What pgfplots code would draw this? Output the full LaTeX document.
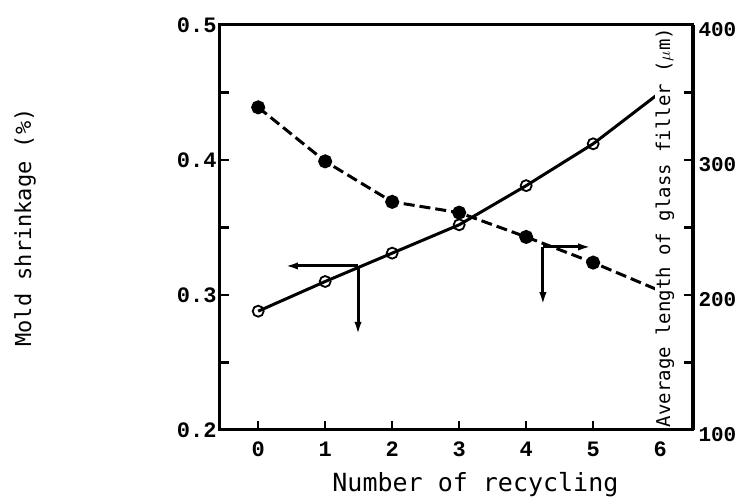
\documentclass[border=0pt]{standalone}
\usepackage{pgfplots}
\pgfplotsset{compat=1.18}
\usetikzlibrary{arrows.meta}
\usepackage{fontspec}
\setmainfont{Liberation Mono}
\newfontfamily\labfont{DejaVu Sans Mono}
\begin{document}
\begin{tikzpicture}
\begin{axis}[
  scale only axis, width=473pt, height=405pt,
  xmin=-0.57, xmax=6.49, ymin=0.2, ymax=0.5,
  axis line style={line width=3pt},
  xtick={0,1,2,3,4,5,6}, xtick pos=bottom,
  ytick={0.2,0.3,0.4,0.5}, minor ytick={0.25,0.35,0.45}, ytick pos=left,
  tick align=inside, major tick length=9pt, minor tick length=9pt,
  tick style={line width=2.2pt, black},
  /pgf/number format/assume math mode=true,
  yticklabel style={/pgf/number format/fixed, /pgf/number format/fixed zerofill, /pgf/number format/precision=1},
  ticklabel style={font=\fontsize{22}{22}\selectfont\bfseries},
  xticklabel style={yshift=-8pt},
  clip=false,
]
\addplot[black, line width=3pt, mark=o, mark size=5.5pt, mark options={line width=1.8pt, fill=white}, mark indices={1,2,3,4,5,6}] coordinates {
(0,0.288) (1,0.310) (2,0.331) (3,0.352) (4,0.381) (5,0.412) (6,0.450)};
\draw[line width=3pt,-{Latex[length=15pt,width=7pt]}] (axis cs:1.49,0.3215) -- (axis cs:0.37,0.3215);
\draw[line width=3pt,-{Latex[length=15pt,width=7pt]}] (axis cs:1.49,0.3215) -- (axis cs:1.49,0.269);
\draw[line width=3pt,-{Latex[length=15pt,width=7pt]}] (axis cs:4.25,0.3356) -- (axis cs:5.0,0.3356);
\draw[line width=3pt,-{Latex[length=15pt,width=7pt]}] (axis cs:4.25,0.3356) -- (axis cs:4.25,0.291);
\node[rotate=90, font=\labfont\fontsize{22}{22}\selectfont] at ([xshift=-195pt]rel axis cs:0,0.5) {Mold shrinkage (\%)};
\node[font=\labfont\fontsize{25}{25}\selectfont] at ([yshift=-55pt]rel axis cs:0.54,0) {Number of recycling};
\path (rel axis cs:0,0) ++(-220pt,-72pt) rectangle ++(742pt,502pt);
\end{axis}
\begin{axis}[
  scale only axis, width=473pt, height=405pt,
  xmin=-0.57, xmax=6.49, ymin=100, ymax=400,
  axis x line=none, axis y line*=right,
  axis line style={line width=3pt, -},
  ytick={100,200,300,400}, minor ytick={150,250,350},
  tick align=inside, major tick length=9pt, minor tick length=9pt,
  tick style={line width=2.2pt, black},
  /pgf/number format/assume math mode=true,
  ticklabel style={font=\fontsize{21}{21}\selectfont\bfseries},
  yticklabel style={xshift=2pt, yshift=-5pt},
  clip=false,
]
\addplot[black, line width=3pt, dash pattern=on 11pt off 5pt, mark=*, mark size=5.5pt, mark options={solid}, mark indices={1,2,3,4,5,6}] coordinates {
(0,339) (1,299) (2,269) (3,261) (4,243) (5,224) (6,203)};
\node[rotate=90, font=\labfont\fontsize{19}{19}\selectfont, fill=white, inner sep=1pt] at ([xshift=-28pt]rel axis cs:1,0.5) {Average length of glass filler ($\mu$m)};
\end{axis}
\end{tikzpicture}
\end{document}
